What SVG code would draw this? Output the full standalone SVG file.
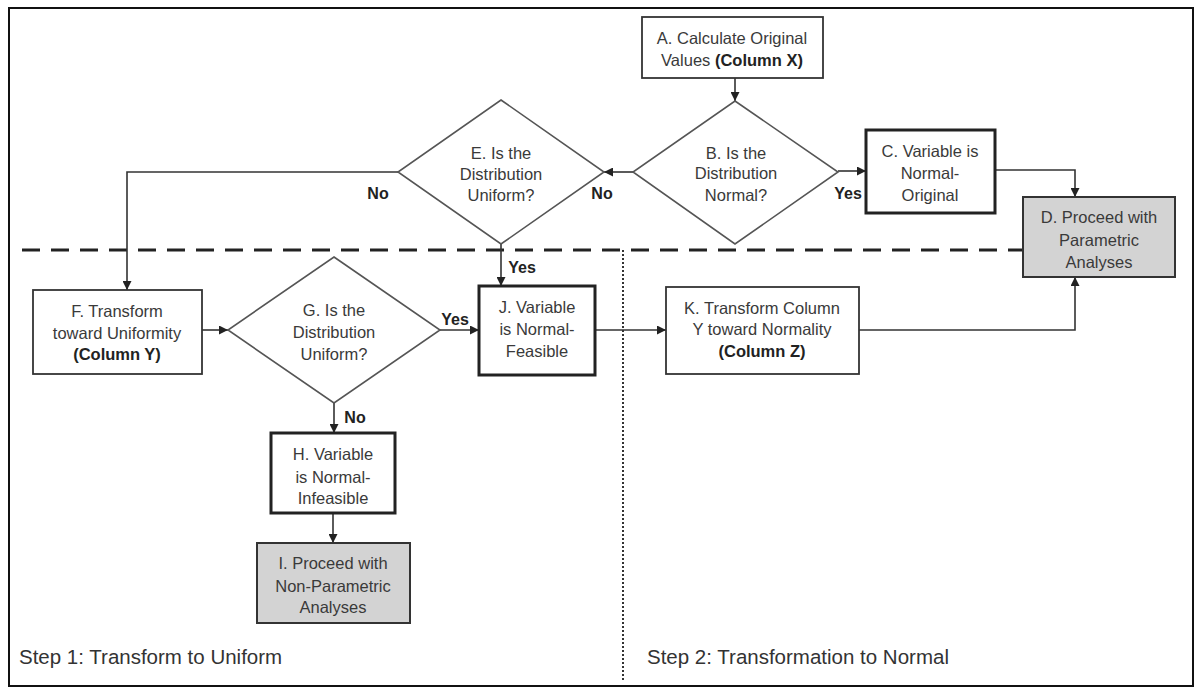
<svg xmlns="http://www.w3.org/2000/svg" width="1201" height="690" viewBox="0 0 1201 690">
<defs>
<marker id="arr" viewBox="0 0 10 10" refX="10" refY="5" markerWidth="9" markerHeight="9" markerUnits="userSpaceOnUse" orient="auto">
<path d="M0,0 L10,5 L0,10 z" fill="#222"/>
</marker>
</defs>
<style>
text{font-family:"Liberation Sans",Arial,sans-serif;fill:#3a3a3a;font-size:16.5px;text-anchor:middle}
.b{font-weight:bold;fill:#222}
.lbl{font-weight:bold;fill:#222;font-size:16px}
.step{font-size:20.5px;text-anchor:start;fill:#333}
.box{fill:#fff;stroke:#333;stroke-width:1.8}
.thick{fill:#fff;stroke:#222;stroke-width:3}
.gray{fill:#d3d3d3;stroke:#333;stroke-width:2}
.dia{fill:#fff;stroke:#555;stroke-width:1.6}
.con{fill:none;stroke:#333;stroke-width:1.6}
</style>
<rect x="9" y="8" width="1184" height="678" fill="#fff" stroke="#111" stroke-width="2"/>
<g id="dividers">
<line x1="22" y1="250" x2="1022" y2="250" stroke="#222" stroke-width="3" stroke-dasharray="18 11"/>
<line x1="623" y1="250" x2="623" y2="682" stroke="#333" stroke-width="2" stroke-dasharray="2 2"/>
</g>
<g id="connectors">
<path class="con" d="M735,78 V101" marker-end="url(#arr)"/>
<path class="con" d="M633,172 H604" marker-end="url(#arr)"/>
<path class="con" d="M838,171 H866" marker-end="url(#arr)"/>
<path class="con" d="M995,170 H1075 V197" marker-end="url(#arr)"/>
<path class="con" d="M398,172 H127 V290" marker-end="url(#arr)"/>
<path class="con" d="M501,244 V286" marker-end="url(#arr)"/>
<path class="con" d="M202,330 H228" marker-end="url(#arr)"/>
<path class="con" d="M440,330 H479" marker-end="url(#arr)"/>
<path class="con" d="M334,403 V433" marker-end="url(#arr)"/>
<path class="con" d="M333,513 V543" marker-end="url(#arr)"/>
<path class="con" d="M595,330 H666" marker-end="url(#arr)"/>
<path class="con" d="M859,330 H1075 V277" marker-end="url(#arr)"/>
<text class="lbl" x="602" y="199">No</text>
<text class="lbl" x="848" y="199">Yes</text>
<text class="lbl" x="378" y="199">No</text>
<text class="lbl" x="522" y="273">Yes</text>
<text class="lbl" x="455" y="325">Yes</text>
<text class="lbl" x="355" y="423">No</text>
</g>
<g id="A">
<rect class="box" x="642" y="17" width="181" height="61"/>
<text x="732" y="44">A. Calculate Original</text>
<text x="732" y="66">Values <tspan class="b">(Column X)</tspan></text>
</g>
<g id="B">
<polygon class="dia" points="735,101 838,172 735,244 633,172"/>
<text x="736" y="159">B. Is the</text>
<text x="736" y="179">Distribution</text>
<text x="736" y="201">Normal?</text>
</g>
<g id="C">
<rect class="thick" x="866" y="130" width="129" height="83"/>
<text x="930" y="157">C. Variable is</text>
<text x="930" y="179">Normal-</text>
<text x="930" y="201">Original</text>
</g>
<g id="D">
<rect class="gray" x="1023" y="197" width="152" height="80"/>
<text x="1099" y="223">D. Proceed with</text>
<text x="1099" y="246">Parametric</text>
<text x="1099" y="268">Analyses</text>
</g>
<g id="E">
<polygon class="dia" points="501,100 604,172 501,244 398,172"/>
<text x="501" y="159">E. Is the</text>
<text x="501" y="180">Distribution</text>
<text x="501" y="201">Uniform?</text>
</g>
<g id="F">
<rect class="box" x="33" y="290" width="169" height="84"/>
<text x="117" y="317">F. Transform</text>
<text x="117" y="339">toward Uniformity</text>
<text class="b" x="117" y="360">(Column Y)</text>
</g>
<g id="G">
<polygon class="dia" points="334,257 440,330 334,403 228,330"/>
<text x="334" y="316">G. Is the</text>
<text x="334" y="338">Distribution</text>
<text x="334" y="360">Uniform?</text>
</g>
<g id="H">
<rect class="thick" x="271" y="433" width="124" height="80"/>
<text x="333" y="460">H. Variable</text>
<text x="333" y="483">is Normal-</text>
<text x="333" y="504">Infeasible</text>
</g>
<g id="I">
<rect class="gray" x="257" y="543" width="153" height="80"/>
<text x="333" y="569">I. Proceed with</text>
<text x="333" y="592">Non-Parametric</text>
<text x="333" y="613">Analyses</text>
</g>
<g id="J">
<rect class="thick" x="479" y="286" width="116" height="89"/>
<text x="537" y="313">J. Variable</text>
<text x="537" y="335">is Normal-</text>
<text x="537" y="357">Feasible</text>
</g>
<g id="K">
<rect class="box" x="666" y="287" width="193" height="87"/>
<text x="762" y="314">K. Transform Column</text>
<text x="762" y="335">Y toward Normality</text>
<text class="b" x="762" y="357">(Column Z)</text>
</g>
<g id="steps">
<text class="step" x="19" y="664">Step 1: Transform to Uniform</text>
<text class="step" x="647" y="664">Step 2: Transformation to Normal</text>
</g>
</svg>
